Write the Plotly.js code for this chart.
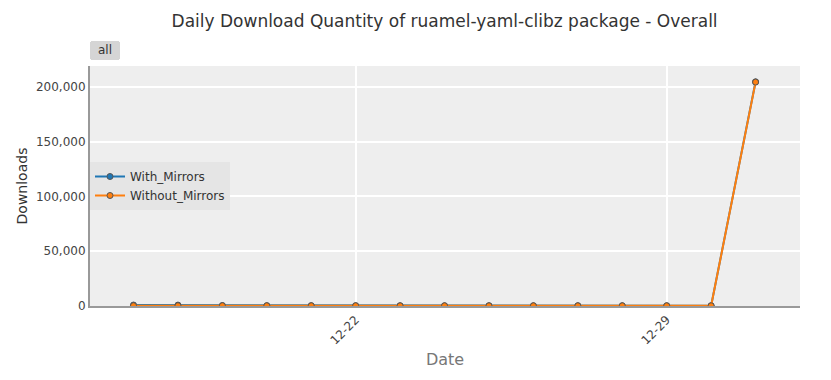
<!DOCTYPE html>
<html><head><meta charset="utf-8">
<script src="https://cdn.plot.ly/plotly-3.0.1.min.js"></script>
<style>html,body{margin:0;padding:0;background:#fff}#chart{width:831px;height:380px}</style>
</head><body><div id="chart"></div>
<script>
const dates = ["2023-12-17","2023-12-18","2023-12-19","2023-12-20","2023-12-21","2023-12-22","2023-12-23","2023-12-24","2023-12-25","2023-12-26","2023-12-27","2023-12-28","2023-12-29","2023-12-30","2023-12-31"];
const withMirrors = [900, 850, 400, 300, 300, 300, 250, 250, 250, 250, 250, 250, 250, 250, 204600];
const withoutMirrors = [300, 300, 300, 250, 250, 250, 200, 200, 200, 200, 200, 200, 200, 200, 204300];

const traces = [
  {x: dates, y: withMirrors, name: "With_Mirrors", type: "scatter", mode: "lines+markers",
   line: {color: "#1f77b4", width: 2}, marker: {size: 6, color: "#1f77b4", line: {color: "#555", width: 1}}},
  {x: dates, y: withoutMirrors, name: "Without_Mirrors", type: "scatter", mode: "lines+markers",
   line: {color: "#ff7f0e", width: 2}, marker: {size: 6, color: "#ff7f0e", line: {color: "#555", width: 1}}}
];

const layout = {
  width: 831, height: 380,
  margin: {l: 90, r: 31, t: 66, b: 74},
  paper_bgcolor: "#ffffff",
  plot_bgcolor: "#eeeeee",
  font: {family: "Verdana, DejaVu Sans, sans-serif", color: "#444", size: 12},
  title: {text: "Daily Download Quantity of ruamel-yaml-clibz package - Overall", x: 0.535, xanchor: "center", y: 0.96, font: {size: 17, color: "#333"}},
  showlegend: true,
  legend: {x: 0.0, xanchor: "left", y: 0.5, yanchor: "middle", bgcolor: "#e5e5e5", font: {size: 12, color: "#333"}},
  xaxis: {
    type: "date",
    range: ["2023-12-16 00:30", "2024-01-01"],
    tickformat: "%m-%d",
    dtick: 7*24*3600*1000,
    tick0: "2023-12-22",
    tickangle: -45,
    gridcolor: "#ffffff", gridwidth: 2,
    showline: true, linecolor: "#999", linewidth: 2,
    zeroline: false,
    title: {text: "Date", font: {size: 16, color: "#777"}},
    rangeselector: {buttons: [{step: "all", label: "all"}], x: 0, xanchor: "left", y: 1.025, yanchor: "bottom", bgcolor: "#d5d5d5", font: {size: 12, color: "#333"}}
  },
  yaxis: {
    range: [0, 219000],
    tickformat: ",d",
    dtick: 50000,
    gridcolor: "#ffffff", gridwidth: 2,
    showline: true, linecolor: "#999", linewidth: 2,
    zeroline: false,
    title: {text: "Downloads", standoff: 5, font: {size: 14, color: "#333"}}
  }
};
Plotly.newPlot("chart", traces, layout, {displayModeBar: false});
</script></body></html>
